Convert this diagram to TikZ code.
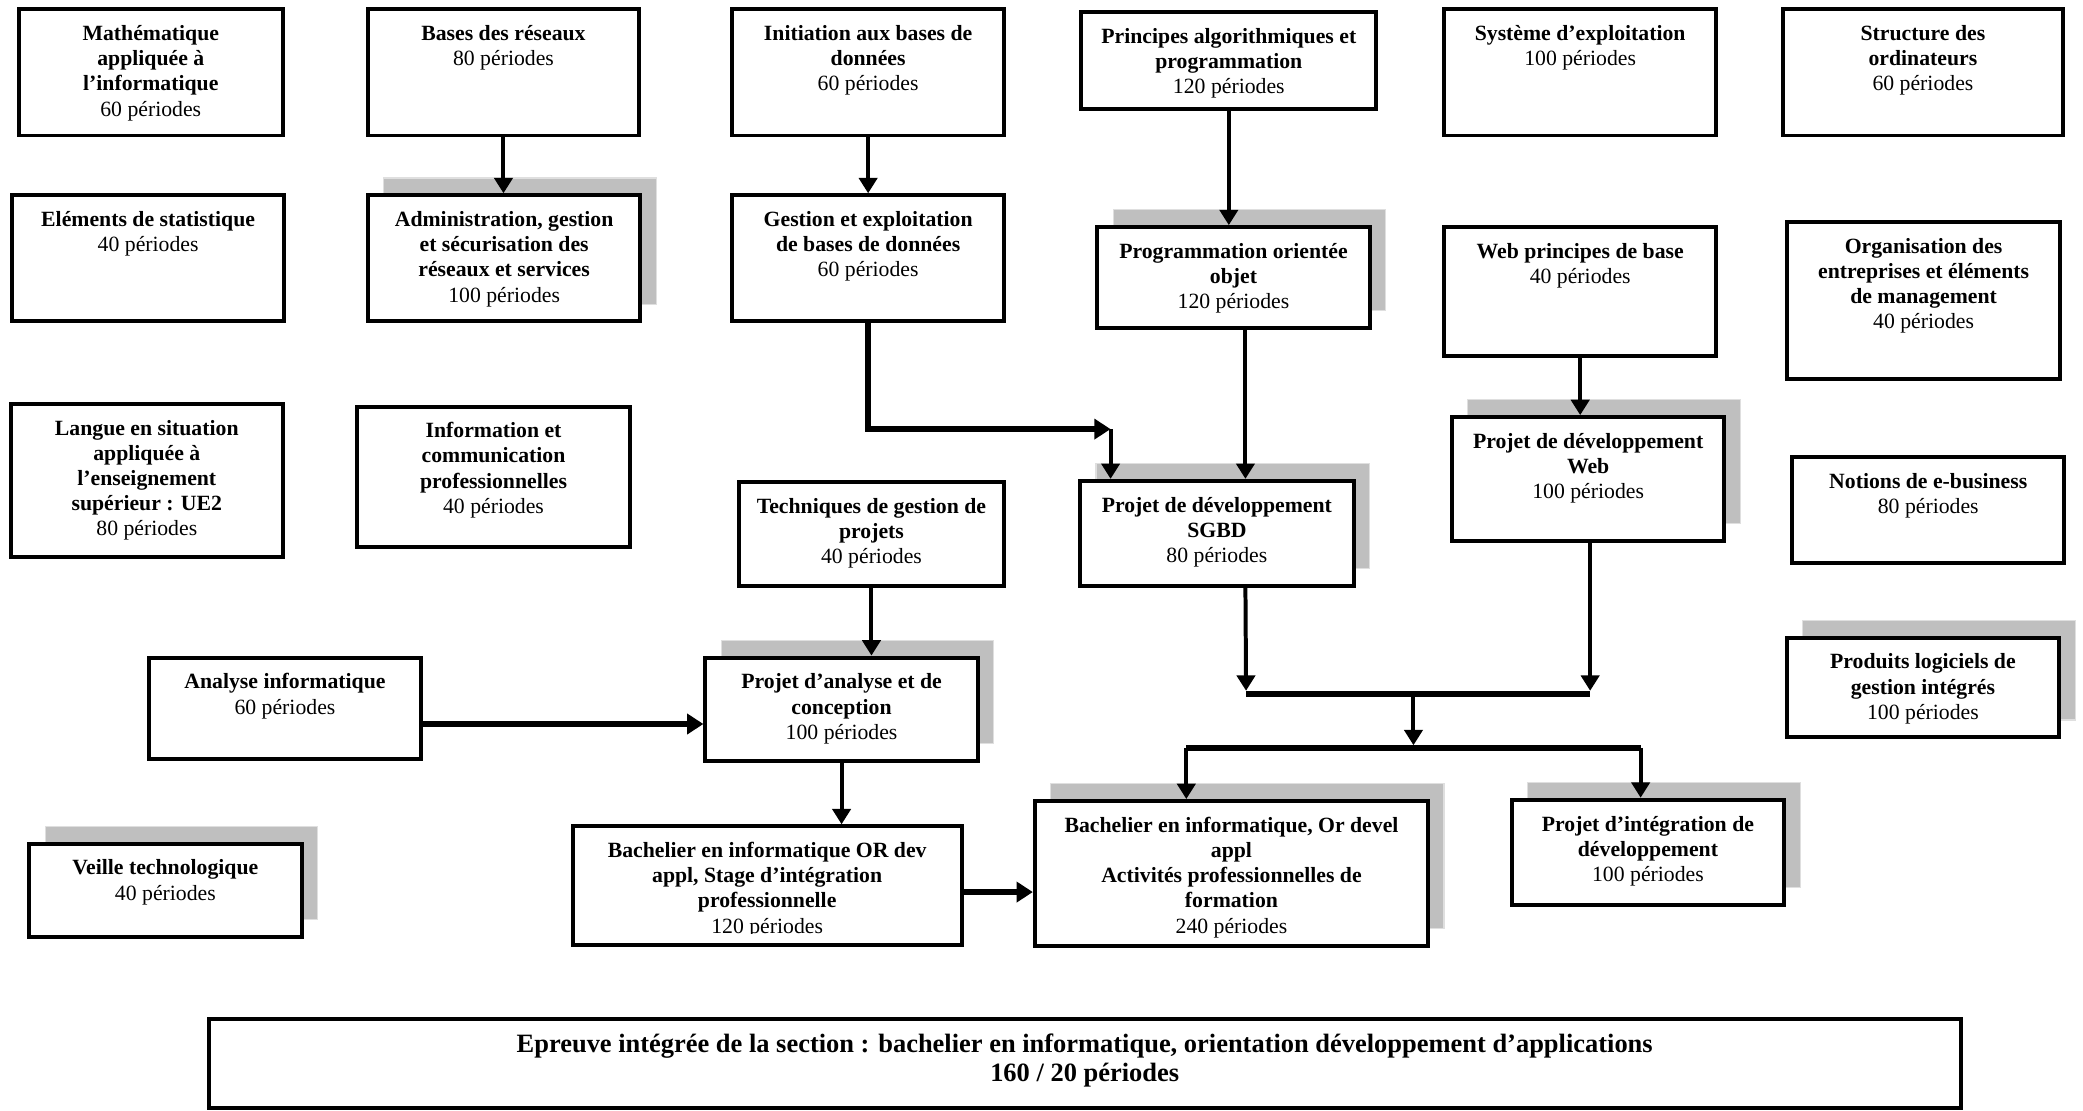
\documentclass[tikz,border=0pt]{standalone}
\usepackage{fontspec}
\setmainfont{Liberation Serif}
\usetikzlibrary{arrows.meta,fit,calc}
\newcommand\mybx[7]{%
  \node[boxst, fit={(#2,#3)(#4,#5)}] (#1) {};
  \node[txtst, anchor=north] (#1-t) at ({(#2+#4)/2},{#3+10}) {\strut #6\\\mdseries #7};
}
\newcommand\mysbx[7]{%
  \path[shad] ({#2+12},{#3-13}) rectangle ({#4+12},{#5-13});
  \mybx{#1}{#2}{#3}{#4}{#5}{#6}{#7}%
}
\begin{document}
\begin{tikzpicture}[x=0.7333pt,y=-0.7333pt,
  boxst/.style={draw, line width=2.2pt, fill=white, inner sep=0pt, rectangle},
  txtst/.style={align=center, inner sep=0pt, font=\fontsize{12}{13.9}\selectfont\bfseries},
  bigtxt/.style={align=center, inner sep=0pt, font=\fontsize{14.6}{16.4}\selectfont\bfseries},
  shad/.style={fill=gray!50, draw=gray!25, line width=0.6pt},
  arr/.style={line width=2.2pt, -{Triangle[width=10pt,length=8.5pt]}},
  harr/.style={line width=3.3pt, -{Triangle[width=11pt,length=9pt]}},
  barst/.style={line width=3.3pt}]
\useasboundingbox (0,0) rectangle (1568,836.2);

% Row 1
\mybx{math}{14}{7}{213}{102}{Mathématique\\appliquée à\\l’informatique}{60 périodes}
\mybx{bres}{277}{7}{481}{102}{Bases des réseaux}{80 périodes}
\mybx{initbd}{551}{7}{756}{102}{Initiation aux bases de\\données}{60 périodes}
\mybx{algo}{814}{9}{1036}{82}{Principes algorithmiques et\\programmation}{120 périodes}
\mybx{sysexp}{1087}{7}{1292}{102}{Système d’exploitation}{100 périodes}
\mybx{struct}{1342}{7}{1553}{102}{Structure des\\ordinateurs}{60 périodes}

% Row 2
\mybx{stat}{9}{147}{214}{242}{Eléments de statistique}{40 périodes}
\mysbx{admin}{277}{147}{482}{242}{Administration, gestion\\et sécurisation des\\réseaux et services}{100 périodes}
\mybx{gestbd}{551}{147}{756}{242}{Gestion et exploitation\\de bases de données}{60 périodes}
\mysbx{poo}{826}{171}{1031}{247}{Programmation orientée\\objet}{120 périodes}
\mybx{web}{1087}{171}{1292}{268}{Web principes de base}{40 périodes}
\mybx{orga}{1345}{167}{1551}{285}{Organisation des\\entreprises et éléments\\de management}{40 périodes}

% Row 3
\mybx{langue}{8}{304}{213}{419}{Langue en situation\\appliquée à\\l’enseignement\\supérieur : UE2}{80 périodes}
\mybx{info}{269}{306}{474}{412}{Information et\\communication\\professionnelles}{40 périodes}
\mybx{tech}{556}{363}{756}{441}{Techniques de gestion de\\projets}{40 périodes}
\mysbx{sgbd}{813}{362}{1019}{441}{Projet de développement\\SGBD}{80 périodes}
\mysbx{pweb}{1093}{314}{1298}{407}{Projet de développement\\Web}{100 périodes}
\mybx{ebiz}{1349}{344}{1554}{424}{Notions de e-business}{80 périodes}

% Row 4
\mybx{analyse}{112}{495}{317}{571}{Analyse informatique}{60 périodes}
\mysbx{pac}{531}{495}{736}{573}{Projet d’analyse et de\\conception}{100 périodes}
\mysbx{plog}{1345}{480}{1550}{555}{Produits logiciels de\\gestion intégrés}{100 périodes}

% Row 5
\mysbx{veille}{22}{635}{227}{705}{Veille technologique}{40 périodes}
\node[boxst, fit={(431,622)(724,711)}] (stage) {};
\begin{scope}
  \clip (431,622) rectangle (724,703);
  \node[txtst, anchor=north] (stage-t) at (577.5,632) {\strut Bachelier en informatique OR dev\\appl, Stage d’intégration\\professionnelle\\\mdseries 120 périodes};
\end{scope}
\mysbx{activ}{779}{603}{1075}{712}{Bachelier en informatique, Or devel\\appl\\Activités professionnelles de\\formation}{240 périodes}
\mysbx{pint}{1138}{602}{1343}{681}{Projet d’intégration de\\développement}{100 périodes}

% Bottom
\node[boxst, fit={(157,767)(1476,834)}] (epr) {};
\node[bigtxt, anchor=north] (epr-t) at (816.5,776) {\strut Epreuve intégrée de la section : bachelier en informatique, orientation développement d’applications\\160 / 20 périodes};

% Connectors
\draw[arr] (bres.south) -- (bres.south |- admin.north);
\draw[arr] (initbd.south) -- (initbd.south |- gestbd.north);
\draw[arr] (algo.south) -- (algo.south |- poo.north);
\draw[arr] (web.south) -- (web.south |- pweb.north);

\coordinate (c1) at (836,323);
\draw[harr] (gestbd.south) |- (c1);
\draw[arr] (c1) -- (c1 |- sgbd.north);

\path ([xshift=6.6pt]poo.south) coordinate (pooout);
\draw[arr] (pooout) -- (pooout |- sgbd.north);

\coordinate (barL) at (938,522.5);
\coordinate (barR) at (1197,522.5);
\coordinate (barLt) at (938,520);
\coordinate (barRt) at (1197,520);
\draw[arr] (pooout |- sgbd.south) -- (barLt);
\draw[arr] (barRt |- pweb.south) -- (barRt);
\draw[barst] (barL) -- (barR);

\coordinate (barM) at (1064,522.5);
\coordinate (bar2M) at (1064,561);
\draw[arr] (barM) -- (bar2M);
\coordinate (bar2L) at (893,563);
\coordinate (bar2R) at (1235,563);
\draw[barst] (bar2L) -- (bar2R);
\draw[arr] (bar2L) -- (bar2L |- activ.north);
\draw[arr] (bar2R) -- (bar2R |- pint.north);

\draw[arr] (tech.south) -- (tech.south |- pac.north);
\path (analyse.east) ++(0,12) coordinate (ae);
\draw[harr] (ae) -- (ae -| pac.west);
\draw[arr] (pac.south) -- (pac.south |- stage.north);
\path (stage.east) ++(0,5) coordinate (se);
\draw[harr] (se) -- (se -| activ.west);
\end{tikzpicture}
\end{document}
